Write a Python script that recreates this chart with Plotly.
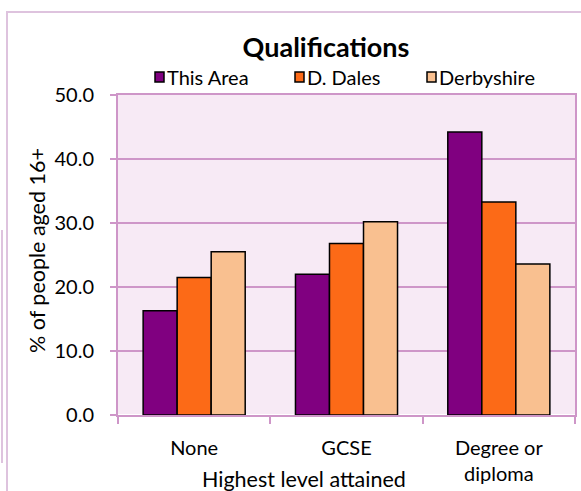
import plotly.graph_objects as go

categories = ["None", "GCSE", "Degree or<br>diploma"]
this_area = [16.3, 22.0, 44.2]
d_dales = [21.5, 26.8, 33.3]
derbyshire = [25.5, 30.2, 23.6]
series_names = ["This Area", "D. Dales", "Derbyshire"]
series_colors = ["#800080", "#FC6A17", "#F9C090"]
y_ticks = [0, 10, 20, 30, 40, 50]

FONT = "Lato"
AX = "#CE96C8"

W, H = 581, 491
L, R, T, B = 118, 6, 95, 76
pw, ph = W - L - R, H - T - B


def px(x):
    return (x - L) / pw


def py(y):
    return (H - B - y) / ph


fig = go.Figure()
for name, vals, col in zip(series_names, [this_area, d_dales, derbyshire], series_colors):
    fig.add_trace(go.Bar(
        x=categories, y=vals, name=name, showlegend=False,
        marker=dict(color=col, line=dict(color="#000000", width=1.5)),
    ))

# legend drawn manually (square + label)
leg_sq_x = [155, 295, 427]
shapes = [
    dict(type="rect", xref="paper", yref="paper",
         x0=px(7), x1=px(590), y0=py(500), y1=py(12),
         line=dict(color="#DEC3DE", width=2), layer="below"),
    dict(type="line", xref="paper", yref="paper",
         x0=px(2), x1=px(2), y0=py(230), y1=py(463),
         line=dict(color="#DEC3DE", width=2), layer="below"),
]
annotations = []
for name, col, sx in zip(series_names, series_colors, leg_sq_x):
    shapes.append(dict(type="rect", xref="paper", yref="paper",
                       x0=px(sx), x1=px(sx + 9), y0=py(82), y1=py(72),
                       fillcolor=col, line=dict(color="#000000", width=1.5)))
    annotations.append(dict(text=name, xref="paper", yref="paper",
                            x=px(sx + 10), y=py(77), xanchor="left", yanchor="middle",
                            showarrow=False, font=dict(size=20, family=FONT)))

annotations.append(dict(text="Highest level attained", xref="paper", yref="paper",
                        x=px(304), y=py(479), xanchor="center", yanchor="middle",
                        showarrow=False, font=dict(size=21.5, family=FONT)))
annotations.append(dict(text="% of people aged 16+", xref="paper", yref="paper",
                        x=px(37), y=py(251), xanchor="center", yanchor="middle",
                        textangle=-90, showarrow=False, font=dict(size=21.5, family=FONT)))

fig.update_layout(
    width=W, height=H,
    margin=dict(l=L, r=R, t=T, b=B, autoexpand=False),
    paper_bgcolor="white",
    plot_bgcolor="#F7EAF5",
    font=dict(family=FONT, color="#000000", size=20),
    barmode="group",
    bargap=0.33,
    bargroupgap=0,
    showlegend=False,
    title=dict(text="<b>Qualifications</b>", x=326 / W, xanchor="center",
               y=1 - 48 / H, yanchor="middle", yref="container",
               font=dict(size=27, family=FONT)),
    xaxis=dict(
        automargin=False,
        showline=True, linecolor=AX, linewidth=2, mirror=True,
        ticks="outside", tickson="boundaries", ticklen=7, tickcolor=AX, tickwidth=2,
        ticklabelstandoff=14,
        tickfont=dict(size=20),
    ),
    yaxis=dict(
        automargin=False,
        range=[0, 50], tickvals=y_ticks, tickformat=".1f",
        showline=True, linecolor=AX, linewidth=2, mirror=True,
        ticks="outside", ticklen=6, tickcolor=AX, tickwidth=2,
        showgrid=True, gridcolor=AX, gridwidth=1.5,
        ticklabelstandoff=12,
        tickfont=dict(size=20),
    ),
    shapes=shapes,
    annotations=annotations,
)

fig.write_html("out.html", config={"displayModeBar": False},
               post_script="document.body.style.margin='0px';")
